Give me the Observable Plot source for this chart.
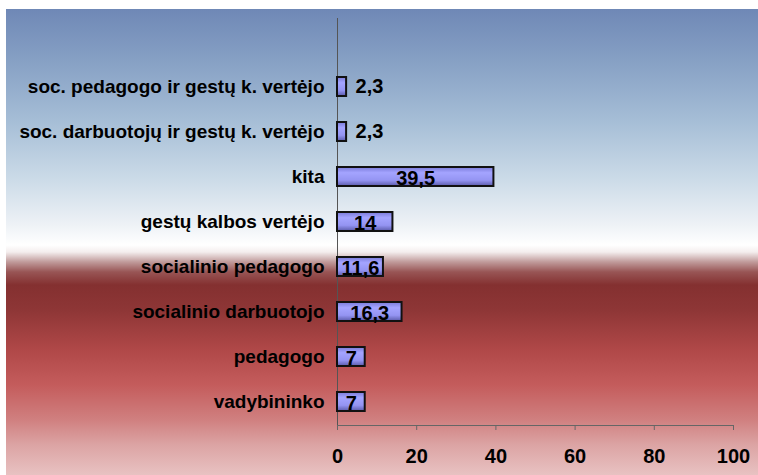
<!DOCTYPE html>
<html><head><meta charset="utf-8">
<script src="https://cdn.jsdelivr.net/npm/d3@7"></script>
<script src="https://cdn.jsdelivr.net/npm/@observablehq/plot@0.6"></script>
<style>
html,body{margin:0;padding:0;background:#fff;}
#wrap{position:relative;width:758px;height:475px;overflow:hidden;}
#bg{position:absolute;left:6px;top:9px;right:0;bottom:0;
background:linear-gradient(to bottom,
 #6f88b6 0px, #86a0c4 51px, #a5bdd6 111px, #ccdbe8 171px, #eef2f6 216px, #ffffff 236px,
 #f4eeee 243px, #c09a9a 253px, #985555 263px, #843030 276px, #8e3636 301px,
 #b04848 341px, #c45c5c 376px, #d08080 411px, #dca4a4 436px, #e8c2c2 466px);}
#chart{position:absolute;left:0;top:0;}
</style></head>
<body>
<div id="wrap"><div id="bg"></div><div id="chart"></div></div>
<script>
const categories = ["soc. pedagogo ir gestų k. vertėjo","soc. darbuotojų ir gestų k. vertėjo","kita","gestų kalbos vertėjo","socialinio pedagogo","socialinio darbuotojo","pedagogo","vadybininko"];
const values = [2.3, 2.3, 39.5, 14, 11.6, 16.3, 7, 7];
const valueLabels = ["2,3","2,3","39,5","14","11,6","16,3","7","7"];
const xTicks = [0, 20, 40, 60, 80, 100];

const data = categories.map((c, i) => ({category: c, value: values[i], label: valueLabels[i]}));
const inside = data.filter(d => d.value >= 5);
const outside = data.filter(d => d.value < 5);

const chart = Plot.plot({
  width: 758, height: 475,
  marginLeft: 337, marginRight: 25, marginTop: 18, marginBottom: 50,
  style: {background: "transparent", fontFamily: "'Liberation Sans', Arial, sans-serif", fontWeight: "bold", fontSize: "19px", color: "#000"},
  x: {domain: [0, 100]},
  y: {domain: ["", ...categories], padding: 0},
  marks: [
    Plot.frame({anchor: "bottom", stroke: "#666"}),
    Plot.ruleX([0], {stroke: "#555", strokeWidth: 1}),
    Plot.barX(data, {x: "value", y: "category", fill: "url(#barGrad)", stroke: "#111", strokeWidth: 2, insetTop: 13, insetBottom: 13}),
    Plot.axisX({ticks: xTicks, tickSize: 5, tickPadding: 18, stroke: "#666", fontSize: 20, fill: "#000", label: null}),
    Plot.axisY({tickSize: 0, tickPadding: 13, fontSize: 19, label: null, fill: "#000"}),
    Plot.text(inside, {x: d => d.value / 2, y: "category", text: "label", fill: "#000", fontSize: 20, dy: 2}),
    Plot.text(outside, {x: "value", y: "category", text: "label", textAnchor: "start", dx: 9, fontSize: 20, fill: "#000"})
  ]
});

const defs = document.createElementNS("http://www.w3.org/2000/svg", "defs");
defs.innerHTML = `<linearGradient id="barGrad" x1="0" y1="0" x2="0" y2="1">
  <stop offset="0" stop-color="#7a7ad8"/>
  <stop offset="0.3" stop-color="#a4a4ff"/>
  <stop offset="0.7" stop-color="#9494f2"/>
  <stop offset="1" stop-color="#5a5aaa"/>
</linearGradient>`;
chart.insertBefore(defs, chart.firstChild);
document.getElementById("chart").appendChild(chart);
</script>
</body></html>
